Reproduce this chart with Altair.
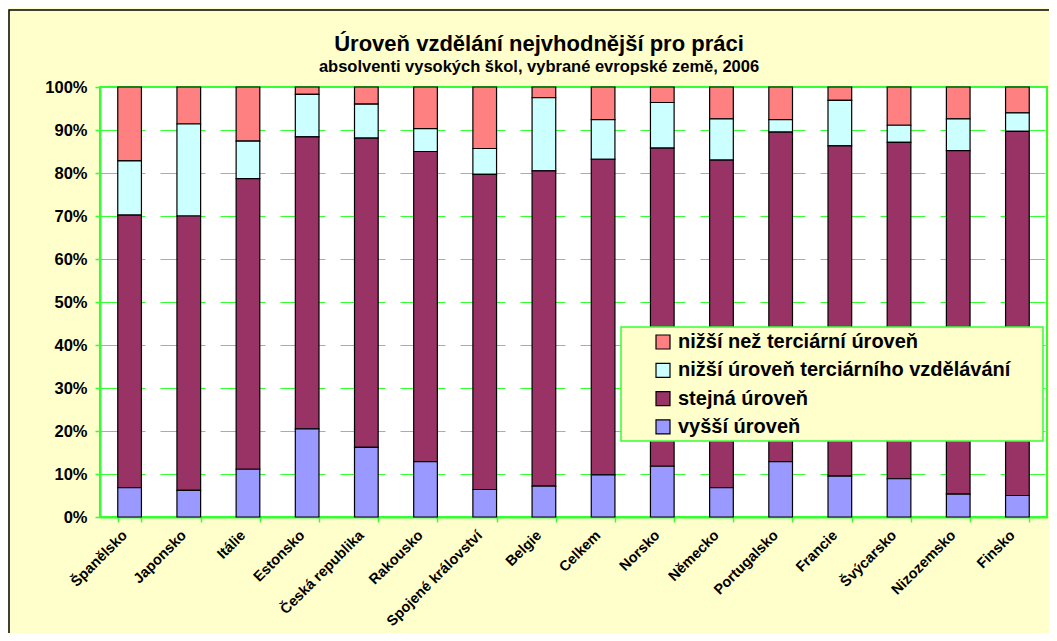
import altair as alt
import pandas as pd

countries = ["Španělsko", "Japonsko", "Itálie", "Estonsko", "Česká republika", "Rakousko",
             "Spojené království", "Belgie", "Celkem", "Norsko", "Německo", "Portugalsko",
             "Francie", "Švýcarsko", "Nizozemsko", "Finsko"]
vyssi = [6.8, 6.2, 11.1, 20.5, 16.2, 12.9, 6.4, 7.2, 9.8, 11.8, 6.8, 12.9, 9.5, 8.9, 5.3, 5.0]
stejna = [63.4, 63.8, 67.6, 67.9, 71.9, 72.1, 73.3, 73.3, 73.4, 74.0, 76.2, 76.6, 76.8, 78.2, 79.9, 84.7]
nizsi_terc = [12.6, 21.4, 8.7, 9.9, 7.9, 5.3, 6.0, 17.0, 9.2, 10.6, 9.6, 2.9, 10.6, 4.0, 7.4, 4.3]
nizsi_nez = [17.2, 8.6, 12.6, 1.7, 4.0, 9.7, 14.3, 2.5, 7.6, 3.6, 7.4, 7.6, 3.1, 8.9, 7.4, 6.0]

series_names = ["nižší než terciární úroveň", "nižší úroveň terciárního vzdělávání",
                "stejná úroveň", "vyšší úroveň"]
series_colors = ["#FF8080", "#CCFFFF", "#993366", "#9999FF"]
series_values = [nizsi_nez, nizsi_terc, stejna, vyssi]
stack_rank = [3, 2, 1, 0]

title_text = "Úroveň vzdělání nejvhodnější pro práci"
subtitle_text = "absolventi vysokých škol, vybrané evropské země, 2006"
y_ticks = list(range(0, 101, 10))

rows = []
for i, c in enumerate(countries):
    for name, vals, rk in zip(series_names, series_values, stack_rank):
        rows.append({"zeme": c, "rada": name, "podil": vals[i], "poradi": rk})
df = pd.DataFrame(rows)

W, H = 947, 430
GREEN = "#33FF33"
FONT = "Liberation Sans"

bars = alt.Chart(df).mark_bar(stroke="black", strokeWidth=1.2).encode(
    x=alt.X("zeme:N", sort=countries,
            scale=alt.Scale(paddingInner=0.6, paddingOuter=0.3),
            axis=alt.Axis(title=None, labelAngle=-45, labelAlign="right", labelBaseline="middle",
                          labelFont=FONT, labelFontWeight="bold", labelFontSize=14.5,
                          labelColor="black", labelPadding=11, labelOffset=-5,
                          tickBand="extent", tickColor=GREEN, tickSize=5, tickWidth=1.5,
                          domainColor=GREEN, domainWidth=2, labelOverlap=False)),
    y=alt.Y("podil:Q", stack="zero",
            scale=alt.Scale(domain=[0, 100], nice=False),
            axis=alt.Axis(title=None, values=y_ticks, labelExpr="datum.value + '%'",
                          grid=True, gridColor=GREEN, gridWidth=1, gridDash=[45, 15],
                          tickColor=GREEN, tickSize=5, tickWidth=1.5,
                          domainColor=GREEN, domainWidth=2,
                          labelFont=FONT, labelFontWeight="bold", labelFontSize=16.5,
                          labelColor="black", labelPadding=8)),
    color=alt.Color("rada:N",
                    scale=alt.Scale(domain=series_names, range=series_colors),
                    legend=alt.Legend(title=None, orient="none", legendX=553, legendY=245,
                                      symbolType="square", symbolSize=196,
                                      symbolStrokeColor="black", symbolStrokeWidth=1.2,
                                      symbolOpacity=1,
                                      labelFont=FONT, labelFontWeight="bold", labelFontSize=20,
                                      labelColor="black", labelOffset=5, labelLimit=500,
                                      rowPadding=8.3, padding=0)),
    order=alt.Order("poradi:Q", sort="ascending"),
)

one = pd.DataFrame({"t": [title_text], "s": [subtitle_text]})

legend_box = alt.Chart(one).mark_rect(fill="#FFFFCC", stroke=GREEN, strokeWidth=1.5).encode(
    x=alt.value(521), x2=alt.value(943), y=alt.value(240), y2=alt.value(354))

title = alt.Chart(one).mark_text(font=FONT, fontWeight="bold", fontSize=22, color="black",
                                 align="center", baseline="alphabetic").encode(
    text="t:N", x=alt.value(439), y=alt.value(-36))
subtitle = alt.Chart(one).mark_text(font=FONT, fontWeight="bold", fontSize=16.5, color="black",
                                    align="center", baseline="alphabetic").encode(
    text="s:N", x=alt.value(439), y=alt.value(-15))

frame = alt.Chart(one).mark_rect(fill="transparent", stroke="black", strokeWidth=1.5).encode(
    x=alt.value(-91), x2=alt.value(W + 40), y=alt.value(-77), y2=alt.value(H + 200))

chart = alt.layer(bars, legend_box, title, subtitle, frame).properties(
    width=W, height=H, background="#FFFFCC",
    autosize=alt.AutoSizeParams(type="none"),
    padding={"left": 92, "top": 79, "right": 2, "bottom": 116},
).configure_view(fill="white", stroke=GREEN, strokeWidth=2)

chart.save("out.html", embed_options={"renderer": "svg", "actions": False})
